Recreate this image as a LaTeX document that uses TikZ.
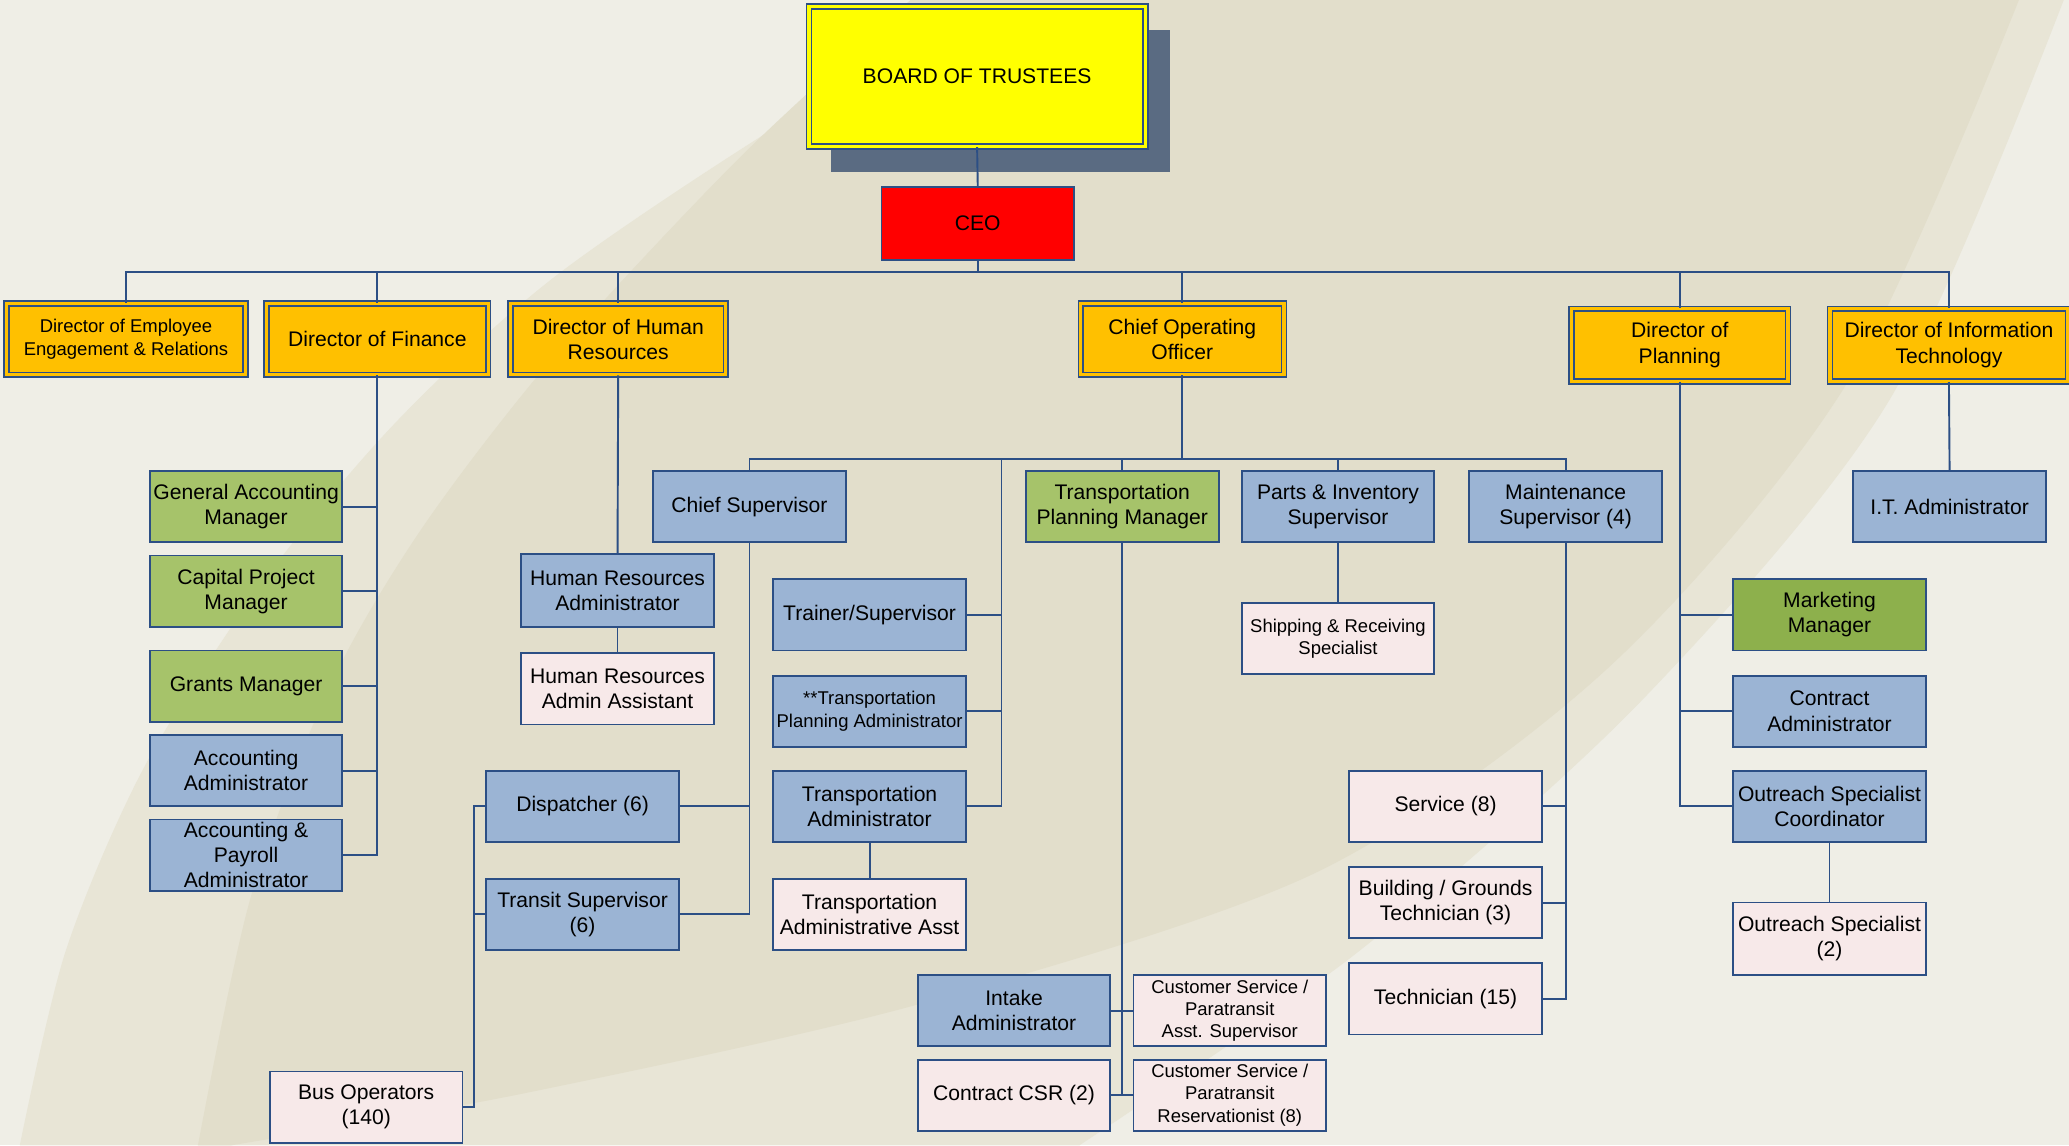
\documentclass[tikz,border=0pt]{standalone}
\usepackage{fontspec}
\setmainfont{Liberation Sans}
\definecolor{bord}{HTML}{2C4F85}
\definecolor{org}{HTML}{FFC000}
\definecolor{yel}{HTML}{FFFF00}
\definecolor{redc}{HTML}{FF0000}
\definecolor{gr}{HTML}{A6C36A}
\definecolor{grd}{HTML}{8DB04C}
\definecolor{bl}{HTML}{9BB4D4}
\definecolor{pk}{HTML}{F7E9E9}
\definecolor{shad}{HTML}{5A6B82}
\definecolor{bgl}{HTML}{EFEEE6}
\definecolor{bgm}{HTML}{E8E5D6}
\definecolor{bgd}{HTML}{E2DECB}
\begin{document}
\begin{tikzpicture}[x=1pt,y=-1pt,
  box/.style={draw=bord, line width=1.4pt, minimum width=146pt, minimum height=54pt,
    inner sep=0pt, align=center, font=\fontsize{16}{19}\selectfont},
  bluebox/.style={box, fill=bl},
  greenbox/.style={box, fill=gr},
  pinkbox/.style={box, fill=pk},
  dirbox/.style={box, fill=org, double=org, double distance=2.6pt, line width=1.1pt},
  smalltext/.style={font=\fontsize{14}{17}\selectfont},
  conn/.style={draw=bord, line width=1.45pt}]
\useasboundingbox (0,0) rectangle (1568,868);
% background
\fill[bgl] (0,0) rectangle (1568,868);
\fill[bgm] plot[smooth] coordinates {(755,0) (590,95) (420,210) (300,320) (200,440) (110,580) (50,720) (15,868)}
  -- plot[smooth] coordinates {(818,868) (1031,720) (1245,530) (1432,303) (1564,0)} -- cycle;
\fill[bgd] plot[smooth] coordinates {(690,0) (560,120) (420,270) (320,400) (250,520) (190,680) (150,868)}
  -- plot[smooth] coordinates {(175,868) (400,828) (700,760) (1000,660) (1220,505) (1400,290) (1530,0)} -- cycle;
% shadow of board
\fill[shad] (630,23) rectangle (887,130);
% top
\node[dirbox, fill=yel, double=yel, minimum width=255pt, minimum height=106pt] (board) at (740.5,58) {BOARD OF TRUSTEES};
\node[box, fill=redc, minimum height=55pt] (ceo) at (741,169.5) {CEO};
% directors
\node[dirbox, smalltext, minimum width=181pt] (dee) at (95.5,257) {Director of Employee\\Engagement \& Relations};
\node[dirbox, minimum width=168pt] (df) at (286,257) {Director of Finance};
\node[dirbox, minimum width=163pt] (dhr) at (468.5,257) {Director of Human\\Resources};
\node[dirbox, minimum width=154pt] (coo) at (896,257) {Chief Operating\\Officer};
\node[dirbox, minimum width=164pt, minimum height=55pt] (dp) at (1273,261.5) {Director of\\Planning};
\node[dirbox, minimum width=180pt, minimum height=55pt] (dit) at (1477,261.5) {Director of Information\\Technology};
% finance
\node[greenbox] (gam) at (186.5,384) {General Accounting\\Manager};
\node[greenbox] (cpm) at (186.5,448) {Capital Project\\Manager};
\node[greenbox] (gm) at (186.5,520) {Grants Manager};
\node[bluebox] (aa) at (186.5,584) {Accounting\\Administrator};
\node[bluebox] (apa) at (186.5,648) {Accounting \&\\Payroll\\Administrator};
% HR
\node[bluebox, minimum height=55pt] (hra) at (468,447.5) {Human Resources\\Administrator};
\node[pinkbox] (hraa) at (468,522) {Human Resources\\Admin Assistant};
% COO
\node[bluebox] (cs) at (568,384) {Chief Supervisor};
\node[greenbox] (tpm) at (850.5,384) {Transportation\\Planning Manager};
\node[bluebox] (pis) at (1014,384) {Parts \& Inventory\\Supervisor};
\node[bluebox] (ms) at (1186.5,384) {Maintenance\\Supervisor (4)};
\node[bluebox] (ts) at (659,466) {Trainer/Supervisor};
\node[bluebox, smalltext] (tpa) at (659,539) {**Transportation\\Planning Administrator};
\node[bluebox] (ta) at (659,611) {Transportation\\Administrator};
\node[pinkbox] (taa) at (659,693) {Transportation\\Administrative Asst};
\node[bluebox] (disp) at (441.5,611) {Dispatcher (6)};
\node[bluebox] (trans) at (441.5,693) {Transit Supervisor\\(6)};
\node[pinkbox] (busop) at (277.5,839) {Bus Operators\\(140)};
\node[bluebox] (intake) at (768.5,766) {Intake\\Administrator};
\node[pinkbox] (ccsr) at (768.5,830) {Contract CSR (2)};
\node[pinkbox, smalltext] (csas) at (932,766) {Customer Service /\\Paratransit\\Asst. Supervisor};
\node[pinkbox, smalltext] (csr) at (932,830) {Customer Service /\\Paratransit\\Reservationist (8)};
\node[pinkbox, smalltext] (srs) at (1014,484) {Shipping \& Receiving\\Specialist};
\node[pinkbox] (serv) at (1095.5,611) {Service (8)};
\node[pinkbox] (bgt) at (1095.5,684) {Building / Grounds\\Technician (3)};
\node[pinkbox] (tech) at (1095.5,757) {Technician (15)};
% planning
\node[box, fill=grd] (mm) at (1386.5,466) {Marketing\\Manager};
\node[bluebox] (ca) at (1386.5,539) {Contract\\Administrator};
\node[bluebox] (osc) at (1386.5,611) {Outreach Specialist\\Coordinator};
\node[pinkbox, minimum height=55pt] (os) at (1386.5,711.5) {Outreach Specialist\\(2)};
% IT
\node[bluebox] (ita) at (1477.5,384) {I.T. Administrator};
% connectors
\coordinate (b1) at (741,206);
\coordinate (b2) at (896,348);
\coordinate (tb) at (759,348);
\coordinate (lb) at (359,611);
\draw[conn] (board.south) -- (ceo.north);
\draw[conn] (ceo.south) -- (b1);
\foreach \d in {dee,df,dhr,coo,dp,dit} \draw[conn] (b1) -| (\d.north);
\foreach \c in {gam,cpm,gm,aa,apa} \draw[conn] (df.south) |- (\c.east);
\draw[conn] (dhr.south) -- (hra.north);
\draw[conn] (hra.south) -- (hraa.north);
\draw[conn] (coo.south) -- (b2);
\foreach \c in {cs,tpm,pis,ms} \draw[conn] (b2) -| (\c.north);
\foreach \c in {ts,tpa,ta} \draw[conn] (tb) |- (\c.east);
\draw[conn] (ta.south) -- (taa.north);
\foreach \c in {disp,trans} \draw[conn] (cs.south) |- (\c.east);
\draw[conn] (disp.west) -- (lb) |- (busop.east);
\draw[conn] (trans.west) -- (trans.west -| lb);
\foreach \c in {intake,ccsr} \draw[conn] (tpm.south) |- (\c.east);
\foreach \c in {csas,csr} \draw[conn] (tpm.south) |- (\c.west);
\draw[conn] (pis.south) -- (srs.north);
\foreach \c in {serv,bgt,tech} \draw[conn] (ms.south) |- (\c.east);
\foreach \c in {mm,ca,osc} \draw[conn] (dp.south) |- (\c.west);
\draw[conn] (osc.south) -- (os.north);
\draw[conn] (dit.south) -- (ita.north);
\end{tikzpicture}
\end{document}
